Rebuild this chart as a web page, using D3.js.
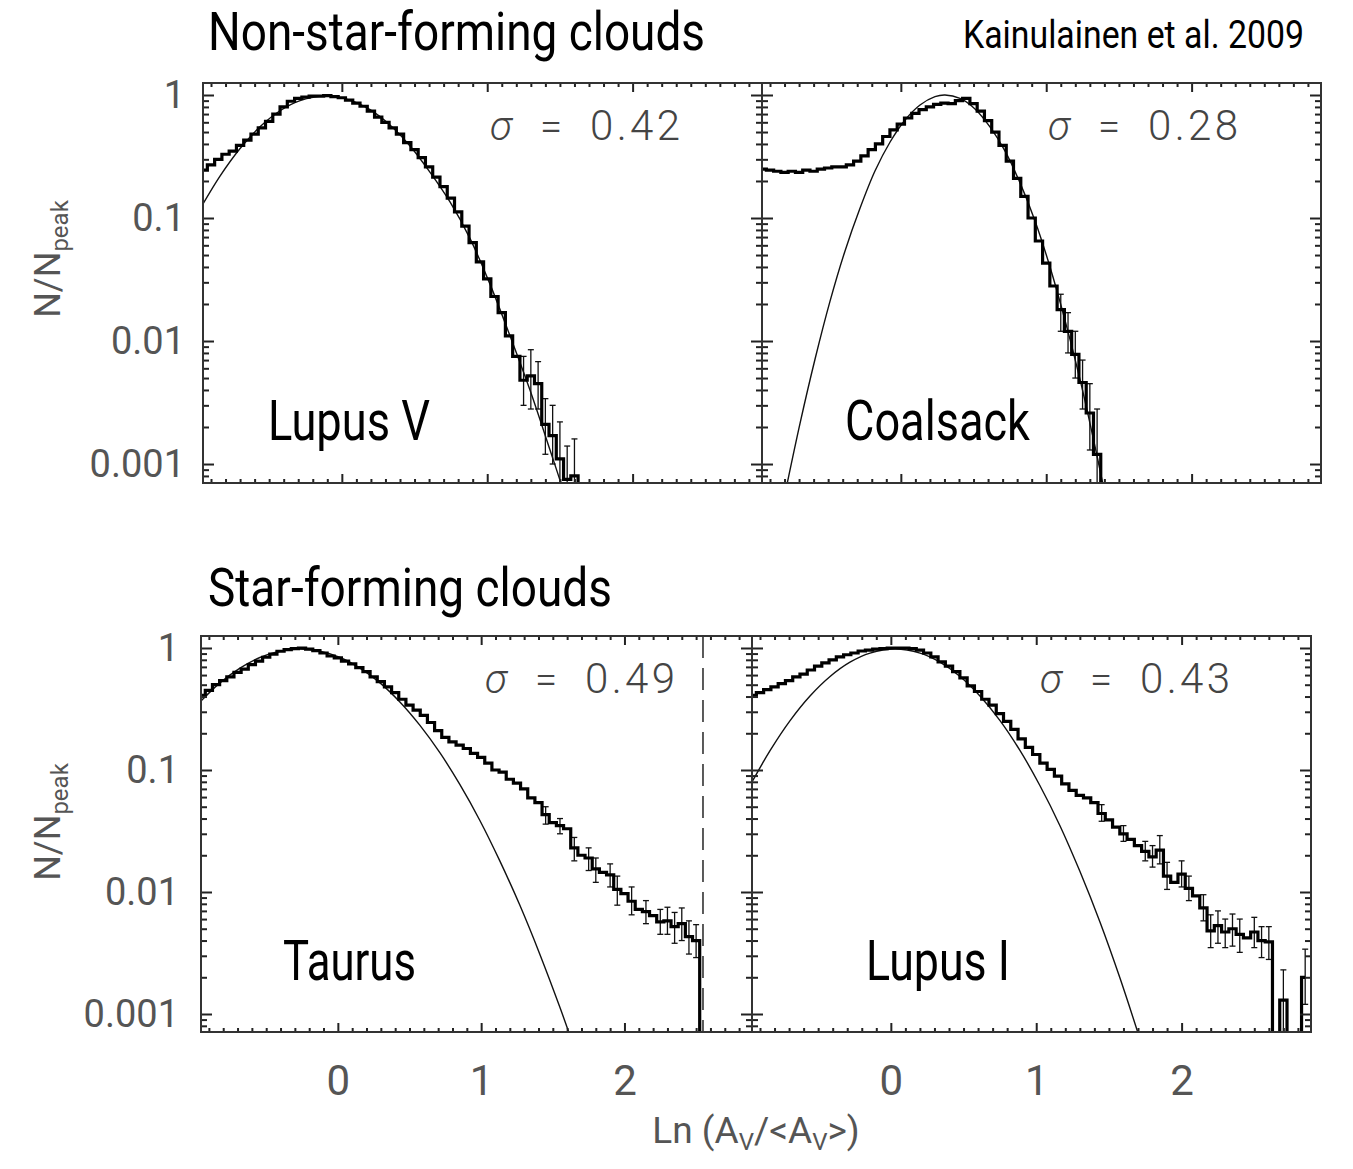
<!DOCTYPE html>
<html lang="en">
<head>
  <meta charset="UTF-8">
  <title>column density PDFs</title>
</head>
<body>
<style>
  * {
    padding: 0;
    margin: 0;
  }
  body {
    background: #fff;
  }
  svg text {
    font-family: Roboto, "Liberation Sans", sans-serif;
  }
</style>

<div id="app"></div>

<script src="https://cdn.jsdelivr.net/npm/d3@7/dist/d3.min.js"></script>
<script>
  const $width = 1353, $height = 1169;

  // tick values / labels
  const xTickValues = [0, 1, 2];
  const yTickValues = [1, 0.1, 0.01, 0.001];
  const yTickLabels = ["1", "0.1", "0.01", "0.001"];

  const cloudNames = ["Lupus V", "Coalsack", "Taurus", "Lupus I"];
  const sigmaLabels = ["0.42", "0.28", "0.49", "0.43"];

  // histograms: bins of ln(Av/<Av>) starting at binStart, width binWidth
  const binStart = -0.95, binWidth = 0.05;

  const lupusV = [0.245, 0.27, 0.30, 0.33, 0.35, 0.39, 0.43, 0.48, 0.54, 0.61,
    0.70, 0.80, 0.89, 0.94, 0.96, 0.98, 0.98, 0.99, 0.97, 0.95,
    0.91, 0.86, 0.81, 0.74, 0.66, 0.60, 0.54, 0.48, 0.41, 0.36,
    0.31, 0.26, 0.215, 0.18, 0.145, 0.112, 0.086, 0.063, 0.044, 0.032,
    0.023, 0.017, 0.011, 0.0075, 0.0048, 0.0052, 0.0045, 0.0021, 0.0017, 0.0011,
    0.00075, 0.0008, 0];

  const coalsack = [0.25, 0.245, 0.24, 0.235, 0.24, 0.235, 0.245, 0.24, 0.25, 0.255,
    0.26, 0.26, 0.27, 0.29, 0.32, 0.36, 0.40, 0.46, 0.52, 0.58,
    0.65, 0.71, 0.76, 0.80, 0.84, 0.86, 0.85, 0.90, 0.94, 0.85,
    0.74, 0.62, 0.50, 0.39, 0.29, 0.21, 0.15, 0.10, 0.065, 0.043,
    0.028, 0.018, 0.012, 0.0078, 0.0046, 0.0026, 0.0012, 0];

  const taurus = [0.41, 0.45, 0.50, 0.54, 0.58, 0.63, 0.67, 0.73, 0.78, 0.84,
    0.89, 0.94, 0.97, 0.99, 1.0, 0.98, 0.95, 0.91, 0.86, 0.83,
    0.78, 0.74, 0.69, 0.64, 0.58, 0.53, 0.48, 0.43, 0.38, 0.34,
    0.31, 0.28, 0.245, 0.21, 0.185, 0.17, 0.16, 0.15, 0.137, 0.127,
    0.114, 0.10, 0.096, 0.084, 0.078, 0.070, 0.059, 0.054, 0.043, 0.037,
    0.035, 0.033, 0.023, 0.020, 0.019, 0.0155, 0.0145, 0.0138, 0.0105, 0.0097,
    0.0084, 0.0072, 0.0069, 0.0064, 0.0057, 0.0058, 0.0052, 0.0055, 0.0043, 0.0040,
    0];

  const lupusI = [0.41, 0.43, 0.455, 0.48, 0.51, 0.54, 0.58, 0.61, 0.66, 0.71,
    0.755, 0.80, 0.845, 0.88, 0.91, 0.945, 0.96, 0.98, 0.99, 1.0,
    1.0, 1.0, 0.99, 0.96, 0.91, 0.845, 0.77, 0.71, 0.64, 0.57,
    0.49, 0.44, 0.38, 0.34, 0.29, 0.25, 0.215, 0.18, 0.153, 0.134,
    0.114, 0.101, 0.089, 0.077, 0.068, 0.062, 0.059, 0.054, 0.044, 0.039,
    0.034, 0.030, 0.027, 0.024, 0.0215, 0.0194, 0.022, 0.0135, 0.012, 0.014,
    0.0107, 0.0093, 0.0074, 0.0048, 0.0053, 0.0047, 0.005, 0.0045, 0.0042, 0.0047,
    0.0040, 0.0039, 0, 0.0013, 0, 0, 0.002];

  // lognormal fits
  const fitLupusVx = [-0.955, -0.838, -0.700, -0.563, -0.425, -0.287, -0.116, 0.056, 0.194, 0.331,
    0.469, 0.607, 0.744, 0.882, 1.019, 1.157, 1.294, 1.432, 1.535, 1.60];
  const fitLupusVy = [0.130, 0.219, 0.367, 0.552, 0.745, 0.90, 0.98, 0.91, 0.76, 0.57,
    0.385, 0.235, 0.135, 0.068, 0.029, 0.011, 0.0040, 0.0013, 0.00055, 0.0003];

  const fitCoalsackx = [-0.797, -0.693, -0.590, -0.487, -0.384, -0.281, -0.178, -0.074, 0.029, 0.132,
    0.235, 0.304, 0.407, 0.510, 0.613, 0.717, 0.820, 0.923, 1.026, 1.129, 1.232, 1.335, 1.404];
  const fitCoalsacky = [0.00057, 0.00215, 0.00714, 0.0211, 0.054, 0.120, 0.241, 0.415, 0.627, 0.83,
    0.97, 1.0, 0.937, 0.77, 0.55, 0.35, 0.193, 0.0946, 0.040, 0.0148, 0.0049, 0.0014, 0.00057];

  const fitTaurusx = [-0.955, -0.823, -0.683, -0.544, -0.404, -0.264, -0.125, 0.015, 0.154, 0.294,
    0.433, 0.573, 0.713, 0.852, 0.992, 1.131, 1.271, 1.410, 1.550, 1.654];
  const fitTaurusy = [0.368, 0.518, 0.684, 0.836, 0.94, 0.98, 0.94, 0.836, 0.684, 0.518,
    0.361, 0.232, 0.138, 0.0758, 0.0384, 0.0179, 0.00774, 0.00308, 0.00113, 0.00051];

  const fitLupusIx = [-0.955, -0.831, -0.693, -0.556, -0.418, -0.281, -0.143, 0.029, 0.201, 0.338,
    0.476, 0.613, 0.751, 0.889, 1.026, 1.164, 1.301, 1.439, 1.576, 1.714];
  const fitLupusIy = [0.0798, 0.144, 0.254, 0.404, 0.584, 0.765, 0.908, 0.98, 0.908, 0.765,
    0.584, 0.404, 0.254, 0.144, 0.0743, 0.0348, 0.0147, 0.00565, 0.00197, 0.00062];

  // error bars [x, low, high]
  const errLupusV = [[1.25, 0.0030, 0.0075], [1.30, 0.0028, 0.0085], [1.35, 0.0028, 0.0068],
    [1.40, 0.0012, 0.0034], [1.45, 0.0010, 0.0030], [1.50, 0.0006, 0.0022], [1.55, 0.0004, 0.0014],
    [1.60, 0.0004, 0.0016]];
  const errCoalsack = [[1.10, 0.012, 0.024], [1.15, 0.008, 0.017], [1.20, 0.005, 0.012],
    [1.25, 0.0028, 0.007], [1.30, 0.0013, 0.0045], [1.35, 0.0004, 0.0028]];
  const errTaurus = [[1.45, 0.036, 0.050], [1.55, 0.030, 0.040], [1.65, 0.018, 0.028],
    [1.75, 0.015, 0.023], [1.80, 0.012, 0.019], [1.90, 0.011, 0.017], [1.95, 0.0078, 0.0135],
    [2.05, 0.0065, 0.011], [2.15, 0.0055, 0.0085], [2.25, 0.0045, 0.0072], [2.30, 0.0045, 0.0075],
    [2.35, 0.0038, 0.0068], [2.40, 0.0040, 0.0074], [2.45, 0.0031, 0.0058], [2.50, 0.0029, 0.0054]];
  const errLupusI = [[1.45, 0.038, 0.052], [1.60, 0.026, 0.035], [1.75, 0.018, 0.026],
    [1.80, 0.016, 0.024], [1.85, 0.017, 0.029], [1.90, 0.0105, 0.0175], [2.00, 0.011, 0.018],
    [2.05, 0.0085, 0.0135], [2.15, 0.0058, 0.0095], [2.20, 0.0035, 0.0065], [2.25, 0.0038, 0.007],
    [2.30, 0.0035, 0.006], [2.35, 0.0036, 0.0066], [2.40, 0.0032, 0.006], [2.50, 0.0035, 0.0062],
    [2.55, 0.0029, 0.0052], [2.60, 0.0028, 0.0052], [2.70, 0.0007, 0.0023], [2.85, 0.0012, 0.0034]];

  const taurusLimit = 2.548;

  const series = [
    {hist: lupusV, fx: fitLupusVx, fy: fitLupusVy, err: errLupusV},
    {hist: coalsack, fx: fitCoalsackx, fy: fitCoalsacky, err: errCoalsack},
    {hist: taurus, fx: fitTaurusx, fy: fitTaurusy, err: errTaurus, limit: taurusLimit},
    {hist: lupusI, fx: fitLupusIx, fy: fitLupusIy, err: errLupusI}
  ];

  // layout
  const xDomain = [-0.955, 2.89];
  const rows = [
    {y0: 83, y1: 483, dom: [0.000701, 1.252]},
    {y0: 636, y1: 1032, dom: [0.000712, 1.254]}
  ];
  const boxes = [
    {x0: 203, x1: 762, row: 0, sx: 490, sy: 140, nx: 268, ny: 440, nl: 162},
    {x0: 762, x1: 1321, row: 0, sx: 1048, sy: 140, nx: 845, ny: 440, nl: 185},
    {x0: 201, x1: 752, row: 1, sx: 485, sy: 693, nx: 283, ny: 980, nl: 133},
    {x0: 752, x1: 1311, row: 1, sx: 1040, sy: 693, nx: 866, ny: 980, nl: 144}
  ];

  const svg = d3.select("#app").append("svg").attr("width", $width).attr("height", $height);
  const defs = svg.append("defs");

  function minorLog(dom) {
    const out = [];
    for (let e = -4; e <= 0; e++) {
      for (let k = 2; k <= 9; k++) {
        const v = k * Math.pow(10, e);
        if (v > dom[0] && v < dom[1]) out.push(v);
      }
    }
    return out;
  }

  const xMinor = d3.range(-9, 29).map(d => d / 10).filter(d => Math.abs(d - Math.round(d)) > 1e-6);

  function tickStyle(g) {
    g.select(".domain").remove();
    g.selectAll("line").attr("stroke", "#222").attr("stroke-width", 2);
  }

  boxes.forEach(function (b, i) {
    const row = rows[b.row];
    const s = series[i];
    const x = d3.scaleLinear().domain(xDomain).range([b.x0, b.x1]);
    const y = d3.scaleLog().domain(row.dom).range([row.y1, row.y0]);
    const yv = v => v > 0 ? y(v) : row.y1 + 20;

    defs.append("clipPath").attr("id", "clip" + i).append("rect")
      .attr("x", b.x0).attr("y", row.y0).attr("width", b.x1 - b.x0).attr("height", row.y1 - row.y0);

    const g = svg.append("g");
    const plot = g.append("g").attr("clip-path", "url(#clip" + i + ")");

    // fit curve
    plot.append("path")
      .datum(s.fx.map((d, k) => [d, s.fy[k]]))
      .attr("fill", "none").attr("stroke", "#111").attr("stroke-width", 1.4)
      .attr("d", d3.line().x(d => x(d[0])).y(d => yv(d[1])).curve(d3.curveCatmullRom.alpha(0.5)));

    // error bars
    const eb = plot.selectAll(".err").data(s.err).enter().append("g").attr("class", "err")
      .attr("stroke", "#111").attr("stroke-width", 1.3);
    eb.append("line").attr("x1", d => x(d[0])).attr("x2", d => x(d[0]))
      .attr("y1", d => y(d[1])).attr("y2", d => y(d[2]));
    eb.append("line").attr("x1", d => x(d[0]) - 3).attr("x2", d => x(d[0]) + 3)
      .attr("y1", d => y(d[1])).attr("y2", d => y(d[1]));
    eb.append("line").attr("x1", d => x(d[0]) - 3).attr("x2", d => x(d[0]) + 3)
      .attr("y1", d => y(d[2])).attr("y2", d => y(d[2]));

    // histogram
    plot.append("path")
      .datum(s.hist.map((v, k) => [binStart + k * binWidth, v]))
      .attr("fill", "none").attr("stroke", "#000").attr("stroke-width", 3.2)
      .attr("stroke-linejoin", "miter")
      .attr("d", d3.line().x(d => x(d[0])).y(d => yv(d[1])).curve(d3.curveStep));

    if (s.limit !== undefined) {
      plot.append("line")
        .attr("x1", x(s.limit)).attr("x2", x(s.limit))
        .attr("y1", row.y0).attr("y2", row.y1)
        .attr("stroke", "#333").attr("stroke-width", 1.6).attr("stroke-dasharray", "22,10");
    }

    // ticks on all four sides, pointing inward
    const yMin = minorLog(row.dom);
    g.append("g").attr("transform", `translate(${b.x0},0)`)
      .call(d3.axisLeft(y).tickValues(yTickValues).tickSize(-11).tickFormat("")).call(tickStyle);
    g.append("g").attr("transform", `translate(${b.x0},0)`)
      .call(d3.axisLeft(y).tickValues(yMin).tickSize(-6).tickFormat("")).call(tickStyle);
    g.append("g").attr("transform", `translate(${b.x1},0)`)
      .call(d3.axisRight(y).tickValues(yTickValues).tickSize(-11).tickFormat("")).call(tickStyle);
    g.append("g").attr("transform", `translate(${b.x1},0)`)
      .call(d3.axisRight(y).tickValues(yMin).tickSize(-6).tickFormat("")).call(tickStyle);
    g.append("g").attr("transform", `translate(0,${row.y1})`)
      .call(d3.axisBottom(x).tickValues(xTickValues).tickSize(-9).tickFormat("")).call(tickStyle);
    g.append("g").attr("transform", `translate(0,${row.y1})`)
      .call(d3.axisBottom(x).tickValues(xMinor).tickSize(-4).tickFormat("")).call(tickStyle);
    g.append("g").attr("transform", `translate(0,${row.y0})`)
      .call(d3.axisTop(x).tickValues(xTickValues).tickSize(-9).tickFormat("")).call(tickStyle);
    g.append("g").attr("transform", `translate(0,${row.y0})`)
      .call(d3.axisTop(x).tickValues(xMinor).tickSize(-4).tickFormat("")).call(tickStyle);

    // frame
    g.append("rect")
      .attr("x", b.x0).attr("y", row.y0).attr("width", b.x1 - b.x0).attr("height", row.y1 - row.y0)
      .attr("fill", "none").attr("stroke", "#333").attr("stroke-width", 2);

    // y tick labels on the left panels
    if (i % 2 === 0) {
      const ya = g.append("g").attr("transform", `translate(${b.x0},0)`)
        .call(d3.axisLeft(y).tickValues(yTickValues).tickSize(0).tickPadding(b.row === 0 ? 18 : 22)
          .tickFormat((d, k) => yTickLabels[k]));
      ya.select(".domain").remove();
      ya.attr("font-family", "Roboto, sans-serif").attr("font-size", 38);
      ya.selectAll("text").attr("fill", "#555");
    }

    // x tick labels on the bottom panels
    if (b.row === 1) {
      const xa = g.append("g").attr("transform", "translate(0,1095)")
        .call(d3.axisBottom(x).tickValues(xTickValues).tickSize(0).tickFormat(d3.format("d")));
      xa.select(".domain").remove();
      xa.attr("font-family", "Roboto, sans-serif").attr("font-size", 42);
      xa.selectAll("text").attr("y", 0).attr("dy", 0).attr("fill", "#555");
    }

    // sigma label
    const sg = g.append("g").attr("font-family", "Lato, 'Open Sans', sans-serif")
      .attr("font-weight", 300).attr("fill", "#444");
    sg.append("text").attr("x", b.sx).attr("y", b.sy).attr("font-size", 40)
      .attr("font-style", "italic").text("σ");
    sg.append("text").attr("x", b.sx + 50).attr("y", b.sy).attr("font-size", 40).text("=");
    sg.append("text").attr("x", b.sx + 100).attr("y", b.sy).attr("font-size", 42)
      .attr("textLength", 90).attr("lengthAdjust", "spacing").text(sigmaLabels[i]);

    // cloud name
    g.append("text").attr("x", b.nx).attr("y", b.ny)
      .attr("font-size", 55).attr("fill", "#000")
      .attr("textLength", b.nl).attr("lengthAdjust", "spacingAndGlyphs")
      .text(cloudNames[i]);
  });

  // titles
  svg.append("text").attr("x", 208).attr("y", 50).attr("font-size", 54).attr("fill", "#000")
    .attr("textLength", 497).attr("lengthAdjust", "spacingAndGlyphs")
    .text("Non-star-forming clouds");
  svg.append("text").attr("x", 963).attr("y", 48).attr("font-size", 38).attr("fill", "#000")
    .attr("textLength", 341).attr("lengthAdjust", "spacingAndGlyphs")
    .text("Kainulainen et al. 2009");
  svg.append("text").attr("x", 208).attr("y", 606).attr("font-size", 53).attr("fill", "#000")
    .attr("textLength", 404).attr("lengthAdjust", "spacingAndGlyphs")
    .text("Star-forming clouds");

  // y axis titles
  [259, 822].forEach(function (cy) {
    const t = svg.append("text")
      .attr("transform", `translate(60,${cy}) rotate(-90)`)
      .attr("text-anchor", "middle").attr("font-size", 36).attr("fill", "#555");
    t.append("tspan").text("N/N");
    t.append("tspan").attr("font-size", 24).attr("dy", 8).text("peak");
  });

  // x axis title
  const xt = svg.append("text").attr("x", 756).attr("y", 1143)
    .attr("text-anchor", "middle").attr("font-size", 37).attr("fill", "#555");
  xt.append("tspan").text("Ln (A");
  xt.append("tspan").attr("font-size", 24).attr("dy", 7).text("V");
  xt.append("tspan").attr("dy", -7).text("/<A");
  xt.append("tspan").attr("font-size", 24).attr("dy", 7).text("V");
  xt.append("tspan").attr("dy", -7).text(">)");
</script>
</body>
</html>
